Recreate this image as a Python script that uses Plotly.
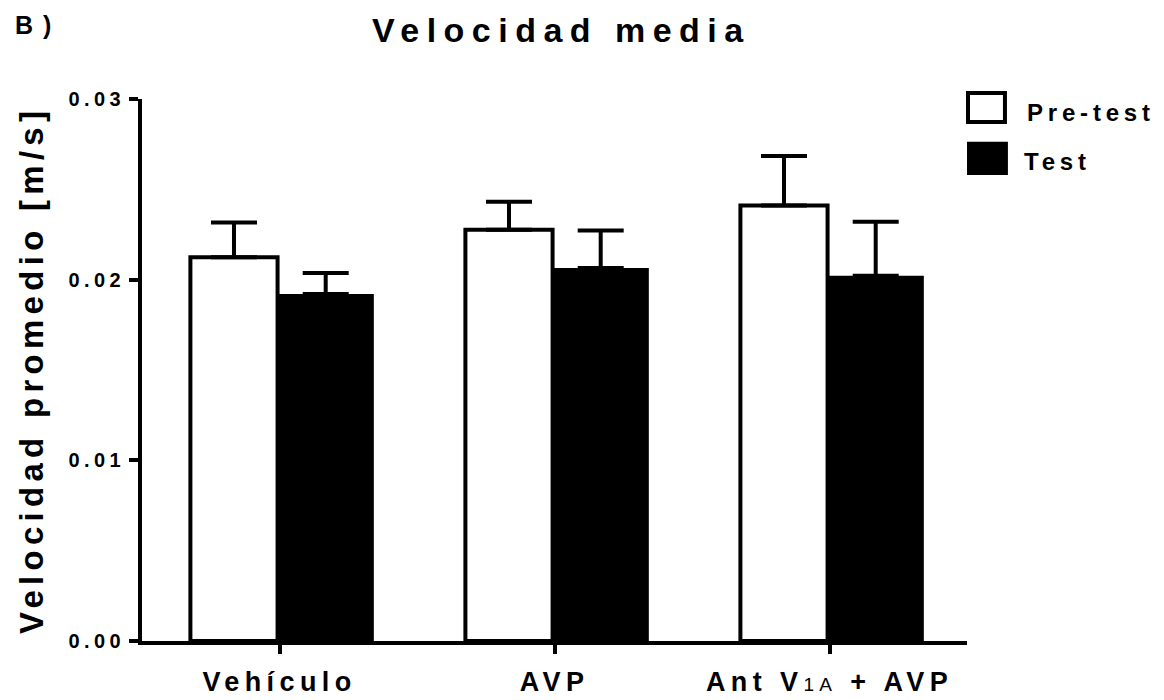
import plotly.graph_objects as go

# ---- data ----
categories = ["Vehículo", "AVP",
              "Ant V<span style=\"font-size:19px;font-weight:normal\">1A</span> + AVP"]
positions = [0, 1, 2]
pre_test = [0.02124, 0.02276, 0.02411]
pre_test_err = [0.00193, 0.00155, 0.00274]
test = [0.01920, 0.02064, 0.02022]
test_err = [0.00117, 0.00208, 0.00298]
zeros = [0, 0, 0]
y_ticks = [0.00, 0.01, 0.02, 0.03]
series_names = ["Pre-test", "Test"]
chart_title = "Velocidad media"
panel_label = "B)"
y_title = "Velocidad promedio [m/s]"

FONT = "Liberation Sans, Arial, Helvetica, sans-serif"


def spaced(text, em):
    return '<span style="letter-spacing:%sem">%s</span>' % (em, text)


fig = go.Figure()
fig.add_trace(go.Bar(
    x=positions, y=pre_test, name=series_names[0],
    width=0.317, offset=-0.324,
    marker=dict(color="white", line=dict(color="black", width=4)),
    error_y=dict(type="data", array=pre_test_err, arrayminus=zeros, symmetric=False,
                 thickness=4, width=23, color="black"),
    showlegend=False,
))
fig.add_trace(go.Bar(
    x=positions, y=test, name=series_names[1],
    width=0.35, offset=-0.007,
    marker=dict(color="black", line=dict(color="black", width=0)),
    error_y=dict(type="data", array=test_err, arrayminus=zeros, symmetric=False,
                 thickness=4, width=23, color="black"),
    showlegend=False,
))

annotations = [
    dict(text=spaced(chart_title, 0.22), x=0.5085, y=1.1264, xref="paper", yref="paper",
         xanchor="center", yanchor="middle", showarrow=False, font=dict(size=34)),
    dict(text=spaced(panel_label, 0.4), x=-0.1265, y=1.1365, xref="paper", yref="paper",
         xanchor="center", yanchor="middle", showarrow=False, font=dict(size=25)),
    dict(text=spaced(y_title, 0.16), x=-0.1345, y=0.5, xref="paper", yref="paper",
         xanchor="center", yanchor="middle", textangle=-90, showarrow=False,
         font=dict(size=33)),
    dict(text=spaced(series_names[0], 0.2), x=1.1508, y=0.976, xref="paper", yref="paper",
         xanchor="center", yanchor="middle", showarrow=False, font=dict(size=24)),
    dict(text=spaced(series_names[1], 0.2), x=1.1100, y=0.884, xref="paper", yref="paper",
         xanchor="center", yanchor="middle", showarrow=False, font=dict(size=24)),
]

shapes = [
    dict(type="rect", xref="paper", yref="paper", x0=1.0012, x1=1.046, y0=0.9576, y1=1.011,
         line=dict(color="black", width=4), fillcolor="white"),
    dict(type="rect", xref="paper", yref="paper", x0=1.0, x1=1.0496, y0=0.860, y1=0.921,
         line=dict(color="black", width=0), fillcolor="black"),
]

fig.update_layout(
    width=1164, height=700,
    margin=dict(l=142, r=197, t=99, b=59),
    barmode="overlay",
    plot_bgcolor="white", paper_bgcolor="white",
    font=dict(family=FONT, color="black", weight="bold"),
    showlegend=False,
    annotations=annotations,
    shapes=shapes,
    xaxis=dict(
        range=[-0.5, 2.5], tickvals=positions, ticktext=categories,
        showline=True, linewidth=4, linecolor="black",
        ticks="outside", ticklen=9, tickwidth=4, tickcolor="black",
        showgrid=False, zeroline=False, tickfont=dict(size=27),
        ticklabelstandoff=5, automargin=False,
    ),
    yaxis=dict(
        range=[0, 0.03], tickvals=y_ticks, tickformat=".2f",
        showline=True, linewidth=4, linecolor="black",
        ticks="outside", ticklen=9, tickwidth=4, tickcolor="black",
        showgrid=False, zeroline=False, tickfont=dict(size=20),
        automargin=False,
    ),
)

post = """
var s=document.createElement('style');
s.textContent='html,body{margin:0;padding:0;overflow:hidden;} .xtick text{letter-spacing:0.2em;} .ytick text{letter-spacing:0.22em;}';
document.head.appendChild(s);
"""

fig.write_html("out.html", config={"displayModeBar": False}, post_script=post)
